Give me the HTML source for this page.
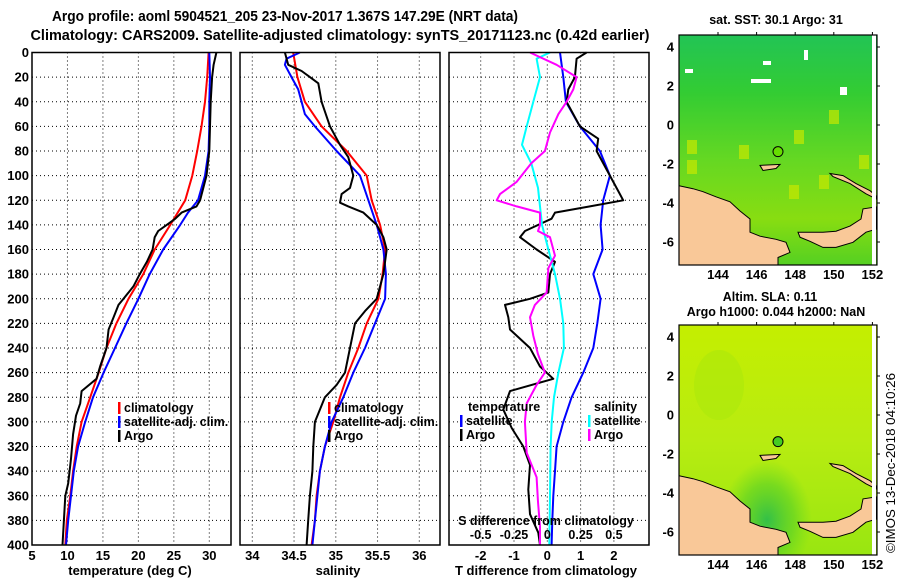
<!DOCTYPE html>
<html><head><meta charset="utf-8"><style>
html,body{margin:0;padding:0;background:#fff}
svg{display:block;font-family:"Liberation Sans",sans-serif;font-weight:bold}
</style></head><body>
<svg id="c" width="900" height="580" viewBox="0 0 900 580" xmlns="http://www.w3.org/2000/svg">
<defs>
<linearGradient id="sstg" x1="0" y1="0" x2="0" y2="1">
<stop offset="0" stop-color="#22c455"/><stop offset="0.25" stop-color="#33cc33"/><stop offset="0.55" stop-color="#66d822"/><stop offset="0.8" stop-color="#88dd11"/><stop offset="1" stop-color="#55d022"/>
</linearGradient>
<linearGradient id="slag" x1="0" y1="0" x2="0" y2="1">
<stop offset="0" stop-color="#c4ee00"/><stop offset="0.5" stop-color="#b8ec11"/><stop offset="1" stop-color="#99e611"/>
</linearGradient>
<radialGradient id="slap" cx="0.5" cy="0.5" r="0.5"><stop offset="0" stop-color="#33c048"/><stop offset="0.6" stop-color="#55d028" stop-opacity="0.6"/><stop offset="1" stop-color="#66d822" stop-opacity="0"/></radialGradient>
<clipPath id="mapclip"><rect x="0" y="0" width="198" height="230"/></clipPath>
</defs>
<g id="root"></g>
</svg>
<script>
// ---- data ----
const tDepth=[0,20,40,60,80,100,120,140,160,180,200,220,240,260,280,300,320,340,360,380,400];
const tClim=[29.9,29.7,29.4,28.9,28.3,27.6,26.6,24.5,22.3,20.7,18.6,16.9,15.5,14.4,13.2,12.0,11.3,10.8,10.4,9.9,9.7];
const tSatDepth=[0,20,40,60,80,100,120,130,140,160,180,200,220,240,260,280,300,320,340,360,380,400];
const tSat=[30.0,30.1,30.0,30.0,29.9,29.4,28.4,27.0,25.9,23.5,21.6,20.0,18.3,16.7,15.1,13.6,12.5,11.5,10.9,10.5,10.1,9.8];
const tArgoDepth=[0,10,20,40,60,80,100,120,125,130,135,140,145,150,160,170,180,190,200,205,215,225,240,255,265,275,285,295,310,330,350,360,380,400];
const tArgo=[31.0,30.6,30.4,30.2,30.1,30.0,29.6,28.7,28.2,26.1,25.2,24.0,22.8,22.3,22.0,21.2,20.2,19.3,17.9,17.2,16.5,15.8,15.5,14.6,14.1,12.0,11.8,11.2,10.8,10.5,10.1,9.7,9.5,9.3];
const sClim=[34.49,34.54,34.63,34.83,35.13,35.37,35.43,35.53,35.59,35.56,35.51,35.37,35.27,35.15,35.05,34.97,34.87,34.81,34.77,34.75,34.71];
const sSatDepth=[0,5,10,20,30,40,50,60,80,100,120,140,160,180,200,220,240,260,280,300,320,340,360,380,400];
const sSat=[34.57,34.41,34.39,34.47,34.55,34.59,34.63,34.75,35.01,35.29,35.39,35.49,35.57,35.60,35.59,35.47,35.35,35.21,35.09,34.95,34.87,34.81,34.78,34.75,34.72];
const sArgoDepth=[0,10,15,20,25,40,60,75,85,100,110,115,122,125,130,140,150,160,180,200,210,220,240,260,270,280,290,300,320,340,360,380,400];
const sArgo=[34.39,34.43,34.59,34.69,34.79,34.83,34.93,35.05,35.15,35.21,35.17,35.07,35.05,35.15,35.33,35.49,35.57,35.61,35.57,35.49,35.35,35.23,35.17,35.11,35.01,34.87,34.81,34.75,34.73,34.72,34.69,34.67,34.65];
const dTSat=[0.38,0.48,0.56,0.98,1.58,1.88,1.68,1.6,1.66,1.38,1.6,1.5,1.38,1.08,0.73,0.48,0.28,0.23,0.18,0.15,0.13];
const dTArgoDepth=[0,5,20,30,40,60,70,80,100,115,120,125,130,135,145,150,160,170,180,195,200,205,215,225,240,255,265,275,290,305,320,335,355,375,390,400];
const dTArgo=[1.18,0.88,0.83,0.63,0.58,0.98,1.53,1.48,1.88,2.18,2.28,1.28,0.23,0.13,-0.67,-0.82,-0.32,0.23,0.08,0.03,-0.52,-1.27,-1.17,-1.12,-0.52,-0.22,0.18,-1.12,-1.32,-1.07,-0.72,-0.52,-0.57,-0.52,-0.27,-0.22];
const dSSatDepth=[0,5,20,40,60,75,90,110,125,140,160,180,200,220,240,260,280,300,320,360,400];
const dSSat=[0.02,-0.08,-0.055,-0.105,-0.155,-0.19,-0.12,-0.07,-0.055,-0.04,0.008,0.058,0.095,0.12,0.125,0.083,0.05,0.033,0.025,0.02,0.015];
const dSArgoDepth=[0,10,20,30,40,50,65,75,80,90,105,115,120,125,130,140,145,150,165,175,195,205,215,230,245,260,270,285,300,325,345,365,385,400];
const dSArgo=[-0.13,0.07,0.22,0.195,0.145,0.083,0.02,-0.005,-0.018,-0.12,-0.23,-0.355,-0.38,-0.23,-0.055,-0.055,-0.07,0.02,0.058,0.008,-0.005,-0.093,-0.13,-0.105,-0.07,-0.018,-0.08,-0.155,-0.168,-0.155,-0.08,-0.07,-0.055,-0.055];
const depthTicks=[0,20,40,60,80,100,120,140,160,180,200,220,240,260,280,300,320,340,360,380,400];
const tTicks=[5,10,15,20,25,30];
const sTicks=[34,34.5,35,35.5,36];
const sTickLabels=["34","34.5","35","35.5","36"];
const dTTicks=[-2,-1,0,1,2];
const dSTicks=[-0.5,-0.25,0,0.25,0.5];
const dSTickLabels=["-0.5","-0.25","0","0.25","0.5"];
const latTicks=[4,2,0,-2,-4,-6];
const lonTicks=[144,146,148,150,152];

// ---- helpers ----
const NS="http://www.w3.org/2000/svg";
const root=document.getElementById('root');
function mk(tag,attrs,parent,txt){const e=document.createElementNS(NS,tag);for(const k in attrs)e.setAttribute(k,attrs[k]);if(txt!==undefined)e.textContent=txt;(parent||root).appendChild(e);return e;}
const top0=52.5,bot0=545;
const yD=d=>top0+(d/400)*(bot0-top0);
const P1={l:32,r:231},P2={l:240,r:440},P3={l:449,r:649};
const xT=v=>32+(v-5)*7.092;
const xS=v=>252.3+(v-34)*83.5;
const xDT=v=>547.3+v*33.3;
const xDS=v=>547.3+v*4*33.3;

function panel(P,name){
  const g=mk('g',{},root);
  
  
  return g;
}
function grid(g,P,xs,xf){
  const gg=mk('g',{stroke:'#000','stroke-width':1,'stroke-dasharray':'1,3'},g);
  
  
  xs.forEach(v=>{const x=xf(v);if(x>P.l+2&&x<P.r-2)mk('line',{x1:x,x2:x,y1:top0,y2:bot0},gg);});
  depthTicks.forEach(d=>{if(d>0&&d<400)mk('line',{x1:P.l,x2:P.r,y1:yD(d),y2:yD(d)},gg);});
}
function frame(g,P){
  const r=mk('rect',{x:P.l,y:top0,width:P.r-P.l,height:bot0-top0,fill:'none',stroke:'#000','stroke-width':1.5},g);
  
  
}
function line(g,xs,ds,xf,color,w,name){
  const pts=xs.map((v,i)=>xf(v).toFixed(1)+','+yD(ds[i]).toFixed(1)).join(' ');
  const p=mk('polyline',{points:pts,fill:'none',stroke:color,'stroke-width':w,'stroke-linejoin':'round'},g);
  
  
}
function txt(g,x,y,s,size,anchor,name,extra){
  const a=Object.assign({x:x,y:y,'font-size':size,'text-anchor':anchor||'start',fill:'#000'},extra||{});
  const t=mk('text',a,g,s);
  
  
  return t;
}
function legend(g,x,y,entries){
  entries.forEach((e,i)=>{
    const yy=y+i*14;
    const r=mk('rect',{x:x,y:yy-10,width:2.5,height:12,fill:e[1]},g);
    
    
    txt(g,x+6,yy,e[0],12.5,'start','legend-entry');
  });
}

// ---- titles ----
txt(root,285,21,"Argo profile: aoml 5904521_205 23-Nov-2017 1.367S 147.29E (NRT data)",14.5,'middle','title-line-1',{textLength:466,lengthAdjust:'spacingAndGlyphs'});
txt(root,340,40,"Climatology: CARS2009. Satellite-adjusted climatology: synTS_20171123.nc (0.42d earlier)",14.5,'middle','title-line-2',{textLength:619,lengthAdjust:'spacingAndGlyphs'});

// ---- panel 1: temperature ----
const g1=panel(P1,'temperature-panel');
grid(g1,P1,tTicks,xT);
line(g1,tClim,tDepth,xT,'#ff0000',2,'temperature-climatology-line');
line(g1,tSat,tSatDepth,xT,'#0000ff',2,'temperature-satellite-line');
line(g1,tArgo,tArgoDepth,xT,'#000000',2,'temperature-argo-line');
frame(g1,P1);
depthTicks.forEach(d=>txt(g1,29,yD(d)+4.5,String(d),13,'end','depth-tick-label'));
tTicks.forEach(v=>txt(g1,xT(v),560,String(v),13,'middle','temperature-tick-label'));
txt(g1,130,575,"temperature (deg C)",13,'middle','x-axis-title-temperature');
legend(g1,118,412,[["climatology","#ff0000"],["satellite-adj. clim.","#0000ff"],["Argo","#000000"]]);

// ---- panel 2: salinity ----
const g2=panel(P2,'salinity-panel');
grid(g2,P2,sTicks,xS);
line(g2,sClim,tDepth,xS,'#ff0000',2,'salinity-climatology-line');
line(g2,sSat,sSatDepth,xS,'#0000ff',2,'salinity-satellite-line');
line(g2,sArgo,sArgoDepth,xS,'#000000',2,'salinity-argo-line');
frame(g2,P2);
sTicks.forEach((v,i)=>txt(g2,xS(v),560,sTickLabels[i],13,'middle','salinity-tick-label'));
txt(g2,338,575,"salinity",13,'middle','x-axis-title-salinity');
legend(g2,328,412,[["climatology","#ff0000"],["satellite-adj. clim.","#0000ff"],["Argo","#000000"]]);

// ---- panel 3: differences ----
const g3=panel(P3,'difference-panel');
grid(g3,P3,dTTicks,xDT);
line(g3,dTSat,tDepth,xDT,'#0000ff',2,'temperature-satellite-diff-line');
line(g3,dTArgo,dTArgoDepth,xDT,'#000000',2,'temperature-argo-diff-line');
line(g3,dSSat,dSSatDepth,xDS,'#00ffff',2,'salinity-satellite-diff-line');
line(g3,dSArgo,dSArgoDepth,xDS,'#ff00ff',2,'salinity-argo-diff-line');
frame(g3,P3);
dTTicks.forEach(v=>txt(g3,xDT(v),560,String(v),13,'middle','t-diff-tick-label'));
dSTicks.forEach((v,i)=>txt(g3,xDS(v),539,dSTickLabels[i],12.5,'middle','s-diff-tick-label'));
txt(g3,546,525,"S difference from climatology",12.5,'middle','s-diff-axis-title');
txt(g3,546,575,"T difference from climatology",13,'middle','t-diff-axis-title');
txt(g3,468,411,"temperature",12.5,'start','legend-title-temperature');
txt(g3,594,411,"salinity",12.5,'start','legend-title-salinity');
legend(g3,460,425,[["satellite","#0000ff"],["Argo","#000000"]]);
legend(g3,588,425,[["satellite","#00ffff"],["Argo","#ff00ff"]]);

// ---- maps ----
const landMain=[[0,149],[14,152],[24,155],[37,160],[51,165],[61,174],[71,182],[71,195],[81,199],[97,202],[107,205],[111,215],[99,220],[99,232],[0,232]];
const landBritain=[[119,195],[144,195],[157,194],[171,189],[182,182],[184,172],[197,170],[197,192],[187,195],[174,205],[157,210],[144,210],[131,204],[121,200]];
const landIreland=[[151,137],[164,139],[177,147],[191,154],[197,159],[197,162],[187,157],[171,147],[154,140]];
const landManus=[[81,129],[101,128],[97,132],[84,134]];
function map(x0,y0,fillId,name,isSla){
  const W=198,H=230,ys=H/232*1.02;
  const g=mk('g',{transform:`translate(${x0},${y0})`},root);
  
  
  const inner=mk('g',{'clip-path':'url(#mapclip)'},g);
  
  
  const bg=mk('rect',{x:0,y:0,width:W,height:H,fill:`url(#${fillId})`},inner);
  
  
  if(isSla){
    const p=mk('ellipse',{cx:88,cy:195,rx:45,ry:60,fill:'url(#slap)'},inner);
    
    
    const p2=mk('ellipse',{cx:40,cy:60,rx:25,ry:35,fill:'#a8e80c',opacity:0.5},inner);
    
    
  } else {
    [[8,105],[8,125],[110,150],[180,120],[150,75],[115,95],[60,110],[140,140]].forEach(c=>{
      const p=mk('rect',{x:c[0],y:c[1],width:10,height:14,fill:'#c8e800',opacity:0.7},inner);
      
      
    });
    [[72,44,20,4],[84,26,8,4],[125,15,4,10],[161,52,7,8],[6,34,8,4]].forEach(c=>{
      const p=mk('rect',{x:c[0],y:c[1],width:c[2],height:c[3],fill:'#fff'},inner);
      
      
    });
  }
  [landMain,landBritain,landIreland,landManus].forEach(L=>{
    const p=mk('polygon',{points:L.map(q=>q[0]+','+Math.min(H,q[1]*ys).toFixed(1)).join(' '),fill:'#f9c898',stroke:'#000','stroke-width':1},inner);
    
    
  });
  const ws=mk('rect',{x:W-5,y:0,width:4,height:H,fill:'#fff'},inner);
  
  
  const lonX=v=>39+(v-144)*19.3, latY=v=>12+(4-v)*19.5;
  const c=mk('circle',{cx:99,cy:latY(-1.367),r:5,fill:isSla?'#44cc22':'#66dd00',stroke:'#000','stroke-width':1},g);
  
  
  const f=mk('rect',{x:0,y:0,width:W,height:H,fill:'none',stroke:'#000','stroke-width':1.2},g);
  
  
  latTicks.forEach(v=>{
    const y=latY(v);
    mk('line',{x1:W,x2:W+3,y1:y,y2:y,stroke:'#000'},g);
    txt(g,-5,y+4.5,String(v),13,'end','latitude-tick-label');
  });
  lonTicks.forEach(v=>{
    const x=lonX(v);
    mk('line',{x1:x,x2:x,y1:0,y2:-3,stroke:'#000'},g);
    txt(g,x,H+14,String(v),13,'middle','longitude-tick-label');
  });
}
map(679,35,'sstg','sst-map',false);
txt(root,776,24,"sat. SST: 30.1 Argo: 31",12.5,'middle','sst-map-title');
map(679,325,'slag','sla-map',true);
txt(root,770,301,"Altim. SLA: 0.11",12.5,'middle','sla-map-title');
txt(root,776,316,"Argo h1000: 0.044 h2000: NaN",12.5,'middle','sla-map-subtitle');
txt(root,0,0,"\u00a9IMOS 13-Dec-2018 04:10:26",13,'middle','imos-timestamp',{transform:'translate(895,463) rotate(-90)','font-weight':'normal',textLength:180,lengthAdjust:'spacingAndGlyphs'});
</script>
</body></html>
